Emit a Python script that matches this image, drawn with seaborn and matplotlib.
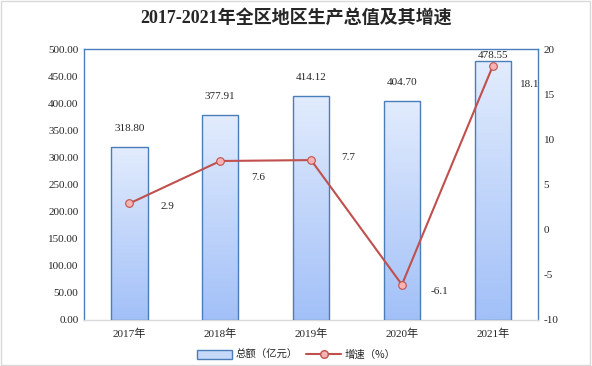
import numpy as np
import pandas as pd
import seaborn as sns
import matplotlib.pyplot as plt
from matplotlib.patches import Rectangle, Patch
from matplotlib.lines import Line2D

# 数据
years = ['2017年', '2018年', '2019年', '2020年', '2021年']
total = [318.80, 377.91, 414.12, 404.70, 478.55]
growth = [2.9, 7.6, 7.7, -6.1, 18.1]
total_labels = ['318.80', '377.91', '414.12', '404.70', '478.55']
growth_labels = ['2.9', '7.6', '7.7', '-6.1', '18.1']

sns.set_style('white')
plt.rcParams['font.family'] = ['Liberation Serif', 'Noto Sans CJK SC']
plt.rcParams['axes.unicode_minus'] = False

df = pd.DataFrame({'year': years, 'total': total, 'growth': growth})

fig = plt.figure(figsize=(5.92, 3.66), dpi=100)
ax = fig.add_axes([0.142, 0.126, 0.767, 0.740])

edge_blue = '#4a7ebb'
sns.barplot(data=df, x='year', y='total', ax=ax, width=0.4,
            color='#c6d9f8', edgecolor=edge_blue, linewidth=1.0, zorder=2)

# 渐变填充
grad = np.linspace(0, 1, 256).reshape(-1, 1)
cmap = sns.blend_palette(['#a2c0f8', '#e2ecfd'], as_cmap=True)
for p in ax.patches:
    x0, y0 = p.get_x(), p.get_y()
    w, h = p.get_width(), p.get_height()
    im = ax.imshow(grad, cmap=cmap, origin='lower', aspect='auto',
                   extent=(x0, x0 + w, y0, y0 + h), zorder=2)
    im.set_clip_path(p)
    p.set_facecolor('none')
    p.set_zorder(3)

ax.set_xlim(-0.5, len(years) - 0.5)
ax.set_ylim(0, 500)
ax.set_yticks(np.arange(0, 501, 50))
ax.set_yticklabels([f'{v:.2f}' for v in np.arange(0, 501, 50)], fontsize=8)
ax.set_xlabel('')
ax.set_ylabel('')
ax.tick_params(axis='x', labelsize=8, length=0, pad=6)
ax.tick_params(axis='y', length=0, pad=4)

# 分类边界的刻度线
ax.set_xticks(np.arange(-0.5, len(years)), minor=True)
ax.tick_params(axis='x', which='minor', length=5, color='#d9d9d9', width=0.8)

for s in ['left', 'top', 'right']:
    ax.spines[s].set_color(edge_blue)
    ax.spines[s].set_linewidth(1.0)
ax.spines['bottom'].set_color('#d9d9d9')
ax.spines['bottom'].set_linewidth(1.0)

# 柱顶标签
for i, (v, lab) in enumerate(zip(total, total_labels)):
    off = 4 if v > 470 else 10
    ax.annotate(lab, (i, v), xytext=(0, off), textcoords='offset points',
                ha='center', va='center' if v > 470 else 'bottom', fontsize=8)

# 增速折线
ax2 = ax.twinx()
line_red = '#c0504d'
sns.lineplot(x=np.arange(len(years)), y=growth, ax=ax2, color=line_red,
             linewidth=1.5, marker='o', markersize=5.5,
             markerfacecolor='#f6b3b3', markeredgecolor=line_red,
             markeredgewidth=0.8, zorder=5)
ax2.set_ylim(-10, 20)
ax2.set_yticks(np.arange(-10, 21, 5))
ax2.tick_params(axis='y', labelsize=8, length=0, pad=4)
ax2.set_ylabel('')
for s in ['left', 'top', 'right', 'bottom']:
    ax2.spines[s].set_visible(False)

label_dy = [-2, -12, 2, -5, -13]
for i, (v, lab) in enumerate(zip(growth, growth_labels)):
    ax2.annotate(lab, (i, v), xytext=(27, label_dy[i]), textcoords='offset points',
                 ha='center', va='center', fontsize=8)

fig.text(0.5, 0.951, '2017-2021年全区地区生产总值及其增速', ha='center', va='center',
         fontsize=13, fontweight='bold')

# 图例
handles = [
    Patch(facecolor='#c6d9f8', edgecolor=edge_blue, linewidth=1.0),
    Line2D([0], [0], color=line_red, linewidth=1.5, marker='o', markersize=5.5,
           markerfacecolor='#f6b3b3', markeredgecolor=line_red),
]
fig.legend(handles, ['总额（亿元）', '增速（%）'], loc='center', bbox_to_anchor=(0.5, 0.03),
           ncol=2, frameon=False, handlelength=3.4, handleheight=0.9,
           columnspacing=0.8, handletextpad=0.3,
           prop={'family': ['Noto Sans CJK SC'], 'size': 7.5})

# 外框
fig.patches.append(Rectangle((0.002, 0.003), 0.995, 0.994, transform=fig.transFigure,
                             fill=False, edgecolor='#d9d9d9', linewidth=1.0))

fig.savefig('out.png', dpi=100)
